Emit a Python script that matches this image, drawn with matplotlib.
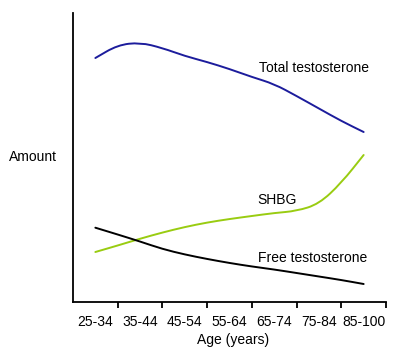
import numpy as np
import matplotlib.pyplot as plt
from matplotlib.path import Path
from matplotlib.patches import PathPatch

plt.rcParams['font.family'] = ['Liberation Sans', 'DejaVu Sans']

age_groups = ['25-34', '35-44', '45-54', '55-64', '65-74', '75-84', '85-100']

# curves read at every half age group (0, 0.5, ... 6)
pos = np.arange(13) / 2.0
total_t = [244, 257, 259.5, 254, 246, 240, 233, 225, 218, 206, 193.5, 181, 170]
shbg = [50, 56.5, 63.3, 69.5, 75, 79.5, 83, 86, 89, 91, 98, 119, 147]
free_t = [74.3, 67.5, 60.5, 53, 47.5, 43, 39, 35.5, 32.5, 29, 25.5, 22, 18]


def smooth_line(ax, x, y, color):
    # rounded corners: quadratic curves through the midpoints
    pts = np.column_stack([x, y])
    mids = (pts[:-1] + pts[1:]) / 2
    verts = [pts[0], mids[0]]
    codes = [Path.MOVETO, Path.LINETO]
    for i in range(1, len(pts) - 1):
        verts += [pts[i], mids[i]]
        codes += [Path.CURVE3, Path.CURVE3]
    verts.append(pts[-1])
    codes.append(Path.LINETO)
    ax.add_patch(PathPatch(Path(verts, codes), fill=False, edgecolor=color,
                           lw=1.4, capstyle='round'))


fig = plt.figure(figsize=(4.01, 3.59), dpi=100)
ax = fig.add_axes([73/401, 1 - 302/359, 313/401, 289/359])

smooth_line(ax, pos, total_t, '#1c1c9c')
smooth_line(ax, pos, shbg, '#99cc11')
smooth_line(ax, pos, free_t, 'black')

ax.text(4.88, 234, 'Total testosterone', ha='center', va='center', fontsize=10)
ax.text(4.07, 102, 'SHBG', ha='center', va='center', fontsize=10)
ax.text(4.85, 44, 'Free testosterone', ha='center', va='center', fontsize=10)

ax.set_xlim(-0.5, 6.5)
ax.set_ylim(0, 289)
ax.spines['top'].set_visible(False)
ax.spines['right'].set_visible(False)
ax.spines['left'].set_linewidth(1.3)
ax.spines['bottom'].set_linewidth(1.3)
ax.set_yticks([])
ax.set_xticks(range(7))
ax.set_xticklabels(age_groups, fontsize=10)
ax.tick_params(axis='x', which='major', length=0, pad=9)
ax.set_xticks(np.arange(0.5, 7, 1), minor=True)
ax.tick_params(axis='x', which='minor', length=4, width=1.3, direction='out')

fig.text(33/401, 1 - 157/359, 'Amount', ha='center', va='center', fontsize=10)
fig.text(233/401, 1 - 340/359, 'Age (years)', ha='center', va='center', fontsize=10)

fig.savefig('out.png', dpi=100)
